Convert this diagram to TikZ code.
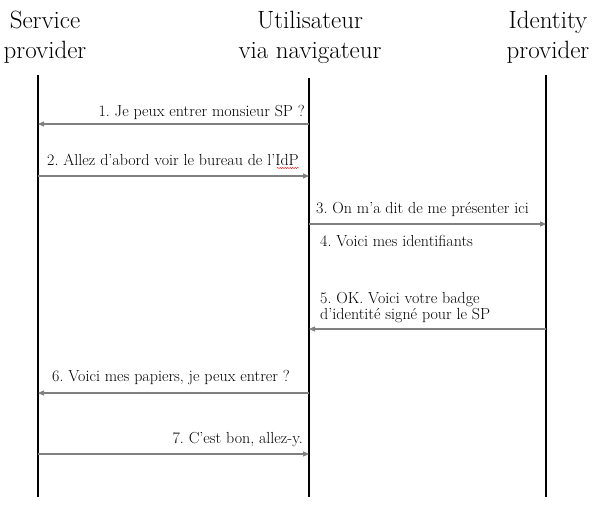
\documentclass[tikz,border=0pt]{standalone}
\usepackage{tikz}
\usetikzlibrary{positioning}
\usetikzlibrary{arrows.meta}
\usetikzlibrary{decorations.pathmorphing}
\frenchspacing

\begin{document}
\begin{tikzpicture}[x=1pt, y=-1pt,
    actor/.style = {align=center, inner sep=0pt, font=\fontsize{25}{30}\selectfont},
    life/.style = {line width=1.5pt},
    msg/.style = {draw=black!50, line width=1.1pt, -{Triangle[length=6pt, width=5pt]}},
    lbl/.style = {inner sep=0pt, font=\fontsize{16}{16}\selectfont}]
    \useasboundingbox (0,0) rectangle (594,504);

    % acteurs
    \node[actor] (sp) at (45,37) {Service\\provider};
    \node[actor] (user) at (310,37) {Utilisateur\\via navigateur};
    \node[actor] (idp) at (548,37) {Identity\\provider};

    % lignes de vie
    \coordinate (spT) at (38,75);
    \coordinate (spB) at (38,497);
    \coordinate (uT) at (309,78);
    \coordinate (uB) at (309,497);
    \coordinate (idT) at (546,75);
    \coordinate (idB) at (546,497);
    \draw[life] (spT) -- (spB);
    \draw[life] (uT) -- (uB);
    \draw[life] (idT) -- (idB);

    % points des messages
    \coordinate (sp1) at (38,124);
    \coordinate (u1) at (309,124);
    \coordinate (sp2) at (38,176);
    \coordinate (u2) at (309,176);
    \coordinate (u3) at (309,224);
    \coordinate (id3) at (546,224);
    \coordinate (u5) at (309,329);
    \coordinate (id5) at (546,329);
    \coordinate (sp6) at (38,393);
    \coordinate (u6) at (309,393);
    \coordinate (sp7) at (38,454);
    \coordinate (u7) at (309,454);

    \draw[msg] (u1) -- (sp1);
    \draw[msg] (sp2) -- (u2);
    \draw[msg] (u3) -- (id3);
    \draw[msg] (id5) -- (u5);
    \draw[msg] (u6) -- (sp6);
    \draw[msg] (sp7) -- (u7);

    % textes
    \node[lbl, anchor=base east] (m1) at (305,116) {1. Je peux entrer monsieur SP ?};
    \node[lbl, anchor=base west] (m2) at (47,165) {2. Allez d'abord voir le bureau de l'IdP};
    \draw[red, decorate, decoration={snake, amplitude=0.6pt, segment length=2.5pt}]
        ([xshift=-22pt, yshift=-3pt]m2.base east) -- ([yshift=-3pt]m2.base east);
    \node[lbl, anchor=base west] (m3) at (316,213) {3. On m'a dit de me présenter ici};
    \node[lbl, anchor=base west] (m4) at (320,246) {4. Voici mes identifiants};
    \node[lbl, anchor=base west] (m5a) at (320,303) {5. OK. Voici votre badge};
    \node[lbl, anchor=base west] (m5b) at (320,319) {d'identité signé pour le SP};
    \node[lbl, anchor=base west] (m6) at (52,381) {6. Voici mes papiers, je peux entrer ?};
    \node[lbl, anchor=base east] (m7) at (303,443) {7. C'est bon, allez-y.};
\end{tikzpicture}
\end{document}
